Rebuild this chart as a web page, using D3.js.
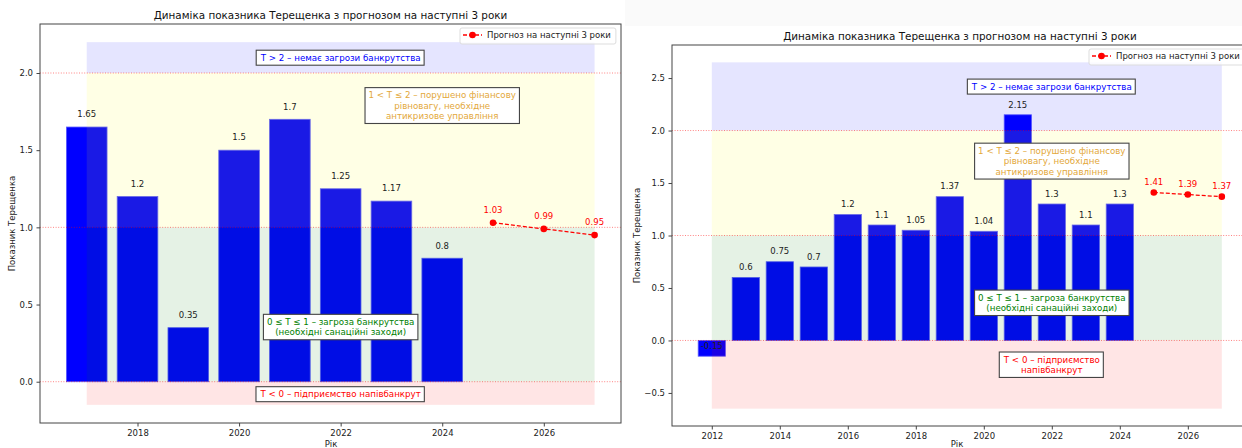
<!DOCTYPE html>
<html>
<head>
<meta charset="utf-8">
<script src="https://cdn.jsdelivr.net/npm/d3@7"></script>
<style>
  body { margin: 0; background: #fff; }
  svg { display: block; font-family: "DejaVu Sans", sans-serif; }
</style>
</head>
<body>
<svg id="chart" width="1242" height="448"></svg>
<script>
// left panel data
const yearsA = [2017, 2018, 2019, 2020, 2021, 2022, 2023, 2024];
const valuesA = [1.65, 1.2, 0.35, 1.5, 1.7, 1.25, 1.17, 0.8];
const forecastYearsA = [2025, 2026, 2027];
const forecastA = [1.03, 0.99, 0.95];

// right panel data
const yearsB = [2012, 2013, 2014, 2015, 2016, 2017, 2018, 2019, 2020, 2021, 2022, 2023, 2024];
const valuesB = [-0.15, 0.6, 0.75, 0.7, 1.2, 1.1, 1.05, 1.37, 1.04, 2.15, 1.3, 1.1, 1.3];
const forecastYearsB = [2025, 2026, 2027];
const forecastB = [1.41, 1.39, 1.37];

const xTicksA = [2018, 2020, 2022, 2024, 2026];
const yTicksA = [0, 0.5, 1, 1.5, 2];
const xTicksB = [2012, 2014, 2016, 2018, 2020, 2022, 2024, 2026];
const yTicksB = [-0.5, 0, 0.5, 1, 1.5, 2, 2.5];

const titleText = "Динаміка показника Терещенка з прогнозом на наступні 3 роки";
const legendText = "Прогноз на наступні 3 роки";

const zoneTexts = {
  blue: "T > 2 – немає загрози банкрутства",
  orange: ["1 < T ≤ 2 – порушено фінансову", "рівновагу, необхідне", "антикризове управління"],
  green: ["0 ≤ T ≤ 1 – загроза банкрутства", "(необхідні санаційні заходи)"],
  redA: "T < 0 – підприємство напівбанкрут",
  redB: ["T < 0 – підприємство", "напівбанкрут"]
};

const svg = d3.select("#chart");

// faint grey band at the top of the right screenshot
svg.append("rect").attr("x", 625).attr("y", 0).attr("width", 617).attr("height", 26).attr("fill", "#fafafa");

function drawPanel(cfg) {
  const x = d3.scaleLinear().domain(cfg.xDomain).range([cfg.left, cfg.right]);
  const y = d3.scaleLinear().domain(cfg.yDomain).range([cfg.bottom, cfg.top]);
  const g = svg.append("g");

  g.append("defs").append("clipPath").attr("id", cfg.id + "-clip")
    .append("rect").attr("x", cfg.left).attr("y", cfg.top)
    .attr("width", cfg.right - cfg.left).attr("height", cfg.bottom - cfg.top);

  const plot = g.append("g").attr("clip-path", `url(#${cfg.id}-clip)`);

  /* Bars */
  const bw = x(0.8) - x(0);
  plot.selectAll("rect.bar")
    .data(cfg.years.map((d, i) => ({ year: d, value: cfg.values[i] })))
    .join("rect")
    .attr("class", "bar")
    .attr("x", (d) => x(d.year) - bw / 2)
    .attr("y", (d) => y(Math.max(0, d.value)))
    .attr("width", bw)
    .attr("height", (d) => Math.abs(y(d.value) - y(0)))
    .attr("fill", "#0000ff")
    .attr("stroke", "#5a5aff")
    .attr("stroke-width", 0.8);

  /* Zones */
  const zones = [
    { lo: 2, hi: cfg.blueTop, color: "rgba(0,0,255,0.1)" },
    { lo: 1, hi: 2, color: "rgba(255,255,0,0.1)" },
    { lo: 0, hi: 1, color: "rgba(0,128,0,0.1)" },
    { lo: cfg.redBottom, hi: 0, color: "rgba(255,0,0,0.1)" }
  ];
  plot.selectAll("rect.zone")
    .data(zones)
    .join("rect")
    .attr("class", "zone")
    .attr("x", x(cfg.zoneFrom))
    .attr("width", x(cfg.zoneTo) - x(cfg.zoneFrom))
    .attr("y", (d) => y(d.hi))
    .attr("height", (d) => y(d.lo) - y(d.hi))
    .attr("fill", (d) => d.color);

  /* Threshold lines */
  plot.selectAll("line.thr")
    .data([0, 1, 2])
    .join("line")
    .attr("class", "thr")
    .attr("x1", cfg.left).attr("x2", cfg.right)
    .attr("y1", (d) => y(d)).attr("y2", (d) => y(d))
    .attr("stroke", "rgba(255,0,0,0.55)")
    .attr("stroke-width", 0.9)
    .attr("stroke-dasharray", "1,1.6");

  /* Bar value labels */
  plot.selectAll("text.val")
    .data(cfg.years.map((d, i) => ({ year: d, value: cfg.values[i] })))
    .join("text")
    .attr("class", "val")
    .attr("x", (d) => x(d.year))
    .attr("y", (d) => y(d.value + 0.05) - 2)
    .attr("text-anchor", "middle")
    .attr("font-size", cfg.fs)
    .attr("fill", "#222")
    .text((d) => d.value);

  /* Forecast */
  const fc = cfg.fYears.map((d, i) => ({ year: d, value: cfg.fValues[i] }));
  plot.append("path")
    .datum(fc)
    .attr("d", d3.line().x((d) => x(d.year)).y((d) => y(d.value)))
    .attr("fill", "none")
    .attr("stroke", "red")
    .attr("stroke-width", 1.3)
    .attr("stroke-dasharray", "4,2");
  plot.selectAll("circle.fc")
    .data(fc)
    .join("circle")
    .attr("class", "fc")
    .attr("cx", (d) => x(d.year))
    .attr("cy", (d) => y(d.value))
    .attr("r", 3.3)
    .attr("fill", "red");
  plot.selectAll("text.fcv")
    .data(fc)
    .join("text")
    .attr("class", "fcv")
    .attr("x", (d) => x(d.year))
    .attr("y", (d) => y(d.value + 0.05) - 2)
    .attr("text-anchor", "middle")
    .attr("font-size", cfg.fs)
    .attr("fill", "red")
    .text((d) => d.value);

  /* Zone annotations */
  cfg.notes.forEach((n) => {
    const lines = Array.isArray(n.text) ? n.text : [n.text];
    const fs = cfg.fs + 0.2;
    const lh = fs * 1.2;
    const cy = y(n.value);
    const ng = plot.append("g");
    const box = ng.append("rect");
    const t = ng.append("text")
      .attr("text-anchor", "middle")
      .attr("font-size", fs)
      .attr("fill", n.color);
    lines.forEach((l, i) => {
      t.append("tspan")
        .attr("x", x(n.year))
        .attr("y", cy + (i - (lines.length - 1) / 2) * lh + fs * 0.36)
        .text(l);
    });
    const bb = t.node().getBBox();
    box.attr("x", bb.x - 3.5).attr("y", bb.y - 2.5)
      .attr("width", bb.width + 7).attr("height", bb.height + 5)
      .attr("fill", "white").attr("stroke", "#444").attr("stroke-width", 1.1);
  });

  /* Frame */
  g.append("rect")
    .attr("x", cfg.left).attr("y", cfg.top)
    .attr("width", cfg.right - cfg.left).attr("height", cfg.bottom - cfg.top)
    .attr("fill", "none").attr("stroke", "#444").attr("stroke-width", 1);

  /* Axes */
  const ax = g.append("g")
    .attr("transform", `translate(0,${cfg.bottom})`)
    .call(d3.axisBottom(x).tickValues(cfg.xTicks).tickFormat(d3.format("d")).tickSize(3.5).tickPadding(3.5));
  const ay = g.append("g")
    .attr("transform", `translate(${cfg.left},0)`)
    .call(d3.axisLeft(y).tickValues(cfg.yTicks).tickFormat(d3.format(".1f")).tickSize(3.5).tickPadding(3.5));
  [ax, ay].forEach((a) => {
    a.select(".domain").remove();
    a.selectAll("text").attr("font-size", cfg.fs).attr("fill", "#222").attr("font-family", "DejaVu Sans");
    a.selectAll("line").attr("stroke", "#444");
  });

  /* Title and labels */
  g.append("text")
    .attr("x", (cfg.left + cfg.right) / 2)
    .attr("y", cfg.top - 5)
    .attr("text-anchor", "middle")
    .attr("font-size", cfg.titleFs)
    .attr("fill", "#111")
    .text(titleText);
  g.append("text")
    .attr("transform", `translate(${cfg.ylabX},${(cfg.top + cfg.bottom) / 2}) rotate(-90)`)
    .attr("text-anchor", "middle")
    .attr("font-size", cfg.fs)
    .attr("fill", "#222")
    .text("Показник Терещенка");
  g.append("text")
    .attr("x", cfg.xlabX)
    .attr("y", 447)
    .attr("text-anchor", "middle")
    .attr("font-size", cfg.fs)
    .attr("fill", "#222")
    .text("Рік");

  /* Legend */
  const lg = g.append("g").attr("transform", `translate(${cfg.legX},${cfg.top + 4})`);
  const lt = lg.append("text").attr("x", 27).attr("y", 10).attr("font-size", cfg.fs).attr("fill", "#222").text(legendText);
  const lw = lt.node().getComputedTextLength();
  lg.insert("rect", "text").attr("x", 0).attr("y", 0).attr("width", lw + 32).attr("height", 16)
    .attr("rx", 2).attr("fill", "rgba(255,255,255,0.8)").attr("stroke", "#ddd");
  lg.append("line").attr("x1", 3).attr("x2", 22).attr("y1", 7).attr("y2", 7)
    .attr("stroke", "red").attr("stroke-width", 1.3).attr("stroke-dasharray", "4,2");
  lg.append("circle").attr("cx", 12.5).attr("cy", 7).attr("r", 3.3).attr("fill", "red");
}

drawPanel({
  id: "a", left: 40, right: 621, top: 24, bottom: 423,
  xDomain: [2016.08, 2027.52], yDomain: [-0.2675, 2.3175],
  years: yearsA, values: valuesA, fYears: forecastYearsA, fValues: forecastA,
  xTicks: xTicksA, yTicks: yTicksA,
  zoneFrom: 2017, zoneTo: 2027, blueTop: 2.2, redBottom: -0.15,
  fs: 8.5, titleFs: 10.4, ylabX: 15, xlabX: 331, legX: 460,
  notes: [
    { year: 2022, value: 2.1, text: zoneTexts.blue, color: "blue" },
    { year: 2024, value: 1.79, text: zoneTexts.orange, color: "#e3a83a" },
    { year: 2022, value: 0.355, text: zoneTexts.green, color: "green" },
    { year: 2022, value: -0.08, text: zoneTexts.redA, color: "red" }
  ]
});

drawPanel({
  id: "b", left: 672, right: 1248, top: 45, bottom: 426,
  xDomain: [2010.83, 2027.77], yDomain: [-0.815, 2.815],
  years: yearsB, values: valuesB, fYears: forecastYearsB, fValues: forecastB,
  xTicks: xTicksB, yTicks: yTicksB,
  zoneFrom: 2012, zoneTo: 2027, blueTop: 2.65, redBottom: -0.65,
  fs: 8.5, titleFs: 10.4, ylabX: 640, xlabX: 957, legX: 1089,
  notes: [
    { year: 2022, value: 2.42, text: zoneTexts.blue, color: "blue" },
    { year: 2022, value: 1.71, text: zoneTexts.orange, color: "#e3a83a" },
    { year: 2022, value: 0.36, text: zoneTexts.green, color: "green" },
    { year: 2022, value: -0.23, text: zoneTexts.redB, color: "red" }
  ]
});
</script>
</body>
</html>
